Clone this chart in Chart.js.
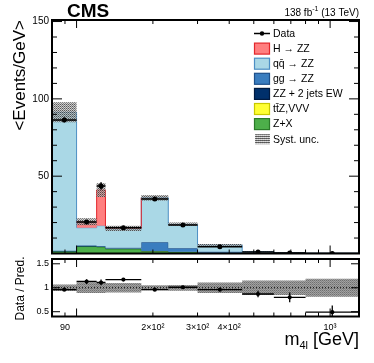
<!DOCTYPE html>
<html><head><meta charset="utf-8">
<script src="https://cdn.jsdelivr.net/npm/chart.js@4.4.1/dist/chart.umd.min.js"></script>
<style>
html,body{margin:0;padding:0;background:#fff;}
#wrap{position:relative;width:374px;height:363px;overflow:hidden;background:#fff;}
#c1{position:absolute;left:0;top:0;}
#c2{position:absolute;left:0;top:250px;}
</style></head><body>
<div id="wrap">
<canvas id="c1" width="374" height="263"></canvas>
<canvas id="c2" width="374" height="113"></canvas>
</div>
<script>
// ---------------- data ----------------
const binEdges = [80, 100, 120, 130, 180, 230, 300, 450, 600, 800, 1300];
const zxVals   = [1.3, 4.5, 4.2, 2.9, 1.3, 0.9, 0.3, 0.1, 0.04, 0.01];
const ttzVals  = [0.05, 0.1, 0.1, 0.15, 0.15, 0.1, 0.05, 0.02, 0.01, 0.005];
const ewVals   = [0.1, 0.2, 0.2, 0.2, 0.15, 0.15, 0.1, 0.04, 0.02, 0.01];
const ggVals   = [0.4, 0.3, 0.3, 0.4, 5.6, 2.2, 0.7, 0.18, 0.07, 0.02];
const qqVals   = [89.5, 11.6, 13.2, 12.4, 28.9, 15.5, 4.35, 0.9, 0.31, 0.075];
const hVals    = [0, 3.9, 23.1, 0.2, 0, 0, 0, 0, 0, 0];
const dataVals = [86.4, 20.4, 43.7, 16.7, 35.3, 18.4, 4.4, 1.05, 0.36, 0.06];
const dataErr  = [1.5, 1.0, 2.3, 0.5, 0.9, 0.5, 0.15, 0.07, 0.04, 0.01];
const systRel  = [0.07, 0.11, 0.11, 0.10, 0.05, 0.06, 0.11, 0.15, 0.15, 0.19];
const ratioVals = [0.96, 1.13, 1.11, 1.17, 0.96, 1.01, 0.96, 0.87, 0.80, 0.49];
const ratioErr  = [0.02, 0.05, 0.06, 0.03, 0.025, 0.03, 0.035, 0.07, 0.10, 0.14];
const xTickValues = [90, 200, 300, 400, 1000];
const xTickLabels = ['90', '2×10²', '3×10²', '4×10²', '10³'];
const xTickMarks  = [90, 100, 200, 300, 400, 500, 600, 700, 800, 900, 1000];
const yTickValues = [50, 100, 150];
const ratioTickValues = [0.5, 1, 1.5];
const legendLabels = ['Data', 'H → ZZ', 'qq\u0304 → ZZ', 'gg → ZZ', 'ZZ + 2 jets EW', 'tt\u0304Z,VVV', 'Z+X', 'Syst. unc.'];

// ---------------- helpers ----------------
const FONT = "'Liberation Sans', Arial, Helvetica, sans-serif";
Chart.defaults.font.family = FONT;
Chart.defaults.color = '#000';
Chart.defaults.animation = false;

function steps(vals){ return binEdges.map((e,i)=>({x:e, y: vals[Math.min(i, vals.length-1)]})); }
function centers(vals){ return vals.map((v,i)=>({x: Math.sqrt(binEdges[i]*binEdges[i+1]), y: v})); }
function makePattern(cells, w, h){
  const c = document.createElement('canvas'); c.width = w; c.height = h;
  const g = c.getContext('2d');
  cells.forEach((col, k)=>{ if(!col) return; g.fillStyle = col; g.fillRect(k % w, Math.floor(k / w), 1, 1); });
  return g.createPattern(c, 'repeat');
}
const hatchMain = makePattern(['rgba(60,60,60,0.85)','rgba(170,170,170,0.7)','rgba(185,185,185,0.6)','rgba(100,100,100,0.8)'], 2, 2);
const hatchRatio = makePattern(['#707070','#9c9c9c','#a4a4a4','#858585'], 2, 2);
const hatchLegend = makePattern(['#555','#666','#ccc','#ddd'], 2, 2);

const procs = [
  {vals: zxVals,  fill:'#4daf4a', line:'#2b7a29', bw:1},
  {vals: ttzVals, fill:'#ffff33', line:'#c8c800', bw:0},
  {vals: ewVals,  fill:'#00306b', line:'#001a40', bw:0},
  {vals: ggVals,  fill:'#3a7dbf', line:'#1d4f8a', bw:1},
  {vals: qqVals,  fill:'#aad8e6', line:'#4d8fc4', bw:1},
  {vals: hVals,   fill:'#ff7f7f', line:'#e3262b', bw:1},
];
let cum = dataVals.map(()=>0);
const histSets = procs.map((p,i)=>{
  cum = cum.map((c,j)=>c + p.vals[j]);
  const vals = p.vals;
  return {
    type:'line', data: steps(cum), stepped: true, fill: i===0 ? 'origin' : '-1',
    backgroundColor: p.fill, borderColor: p.line, borderWidth: p.bw, pointRadius: 0, order: 20 - i,
    segment: { borderColor: ctx => (vals[ctx.p0DataIndex] > 0 ? p.line : 'rgba(0,0,0,0)') }
  };
});
const total = cum;
const bandLo = total.map((t,i)=>t*(1-systRel[i]));
const bandHi = total.map((t,i)=>t*(1+systRel[i]));

function drawFrame(ctx, a, xs, ys, yMaj, yMin, lens){
  ctx.save();
  ctx.strokeStyle = '#000';
  ctx.lineWidth = 1;
  ctx.beginPath();
  xTickMarks.forEach(v=>{
    const px = xs.getPixelForValue(v);
    const L = (v === 100 || v === 1000) ? lens.xL : lens.xS;
    ctx.moveTo(px, a.bottom); ctx.lineTo(px, a.bottom - L);
    ctx.moveTo(px, a.top); ctx.lineTo(px, a.top + L);
  });
  yMaj.forEach(v=>{
    const py = ys.getPixelForValue(v);
    ctx.moveTo(a.left, py); ctx.lineTo(a.left + lens.yL, py);
    ctx.moveTo(a.right, py); ctx.lineTo(a.right - lens.yL, py);
  });
  yMin.forEach(v=>{
    const py = ys.getPixelForValue(v);
    ctx.moveTo(a.left, py); ctx.lineTo(a.left + lens.yS, py);
    ctx.moveTo(a.right, py); ctx.lineTo(a.right - lens.yS, py);
  });
  ctx.stroke();
  ctx.lineWidth = 2;
  ctx.strokeRect(a.left, a.top, a.right - a.left, a.bottom - a.top);
  ctx.restore();
}
function drawErrors(ctx, a, xs, ys, vals, errs, lw){
  ctx.save();
  ctx.beginPath(); ctx.rect(a.left, a.top, a.right - a.left, a.bottom - a.top); ctx.clip();
  ctx.strokeStyle = '#000'; ctx.lineWidth = lw;
  ctx.beginPath();
  vals.forEach((v,i)=>{
    const x0 = xs.getPixelForValue(binEdges[i]), x1 = xs.getPixelForValue(binEdges[i+1]);
    const xc = xs.getPixelForValue(Math.sqrt(binEdges[i]*binEdges[i+1]));
    const yc = ys.getPixelForValue(v);
    ctx.moveTo(x0, yc); ctx.lineTo(x1, yc);
    ctx.moveTo(xc, ys.getPixelForValue(v - errs[i])); ctx.lineTo(xc, ys.getPixelForValue(v + errs[i]));
  });
  ctx.stroke();
  ctx.restore();
}

const xLog = {
  type:'logarithmic', min: 80, max: 1300,
  afterBuildTicks: s => { s.ticks = xTickValues.map(v=>({value:v})); },
};

// ---------------- main panel ----------------
const mainDecor = {
  id: 'mainDecor',
  afterDatasetsDraw(chart){
    const {ctx, chartArea: a, scales:{x, y}} = chart;
    drawErrors(ctx, a, x, y, dataVals, dataErr, 1.5);
    const minor = []; for (let v = 10; v <= 150; v += 10) if (v % 50) minor.push(v);
    drawFrame(ctx, a, x, y, [0, 50, 100, 150], minor, {xL: 8, xS: 4, yL: 10, yS: 5});
  },
  afterDraw(chart){
    const ctx = chart.ctx;
    ctx.save();
    ctx.fillStyle = '#000';
    ctx.textBaseline = 'alphabetic';
    ctx.font = 'bold 19px ' + FONT;
    ctx.textAlign = 'left';
    ctx.fillText('CMS', 67, 17);
    // lumi
    ctx.font = '10px ' + FONT;
    ctx.textAlign = 'right';
    const t3 = ' (13 TeV)';
    ctx.fillText(t3, 359, 16);
    let xr = 359 - ctx.measureText(t3).width;
    ctx.font = '7px ' + FONT;
    ctx.fillText('-1', xr, 11);
    xr -= ctx.measureText('-1').width;
    ctx.font = '10px ' + FONT;
    ctx.fillText('138 fb', xr, 16);
    // y title
    ctx.save();
    ctx.translate(25, 20);
    ctx.rotate(-Math.PI/2);
    ctx.font = '17px ' + FONT;
    ctx.textAlign = 'right';
    ctx.fillText('<Events/GeV>', 0, 0);
    ctx.restore();
    // legend
    const cols = [null, procs[5], procs[4], procs[3], procs[2], procs[1], procs[0], null];
    ctx.font = '10.5px ' + FONT;
    ctx.textAlign = 'left';
    ctx.textBaseline = 'middle';
    legendLabels.forEach((lab, k)=>{
      const yc = 33.5 + 15.1 * k;
      if (k === 0) {
        ctx.strokeStyle = '#000'; ctx.lineWidth = 1.5;
        ctx.beginPath(); ctx.moveTo(254, yc); ctx.lineTo(270, yc); ctx.stroke();
        ctx.beginPath(); ctx.arc(262, yc, 2.2, 0, Math.PI*2); ctx.fillStyle = '#000'; ctx.fill();
      } else if (k === legendLabels.length - 1) {
        ctx.fillStyle = hatchLegend; ctx.fillRect(255, yc - 5, 15, 10);
      } else {
        const p = cols[k];
        ctx.fillStyle = p.fill; ctx.fillRect(254.5, yc - 5.5, 15, 11);
        ctx.strokeStyle = p.line; ctx.lineWidth = 1.2; ctx.strokeRect(254.5, yc - 5.5, 15, 11);
      }
      ctx.fillStyle = '#000';
      ctx.fillText(lab, 273, yc + 0.5);
    });
    ctx.restore();
  }
};

new Chart(document.getElementById('c1'), {
  type: 'line',
  data: { datasets: [
    ...histSets,
    {type:'line', data: steps(bandLo), stepped:true, fill:false, borderWidth:0, pointRadius:0, order:4},
    {type:'line', data: steps(bandHi), stepped:true, fill:'-1', backgroundColor: hatchMain, borderWidth:0, pointRadius:0, order:3},
    {type:'line', data: centers(dataVals), showLine:false, pointRadius:2.5, pointBackgroundColor:'#000', pointBorderColor:'#000', pointBorderWidth:0, order:1},
  ]},
  options: {
    responsive: false, animation: false,
    layout: { padding: {left:0, right:15, top:20, bottom:9.5} },
    plugins: { legend:{display:false}, tooltip:{enabled:false} },
    scales: {
      x: Object.assign({}, xLog, {display:false}),
      y: {
        type:'linear', min:0, max:151,
        afterBuildTicks: s => { s.ticks = yTickValues.map(v=>({value:v})); },
        afterFit: s => { s.width = 52; },
        grid:{display:false, drawTicks:false}, border:{display:false},
        ticks:{font:{size:10, family:FONT}, color:'#000', padding:3, callback: v => String(v)}
      }
    }
  },
  plugins: [mainDecor]
});

// ---------------- ratio panel ----------------
const ratioDecor = {
  id: 'ratioDecor',
  afterDatasetsDraw(chart){
    const {ctx, chartArea: a, scales:{x, y}} = chart;
    drawErrors(ctx, a, x, y, ratioVals, ratioErr, 1.3);
    drawFrame(ctx, a, x, y, ratioTickValues, [], {xL: 8, xS: 4, yL: 8, yS: 4});
  },
  afterDraw(chart){
    const ctx = chart.ctx;
    ctx.save();
    ctx.fillStyle = '#000';
    ctx.save();
    ctx.translate(24, 38.5);
    ctx.rotate(-Math.PI/2);
    ctx.font = '12px ' + FONT;
    ctx.textAlign = 'center';
    ctx.textBaseline = 'alphabetic';
    ctx.fillText('Data / Pred.', 0, 0);
    ctx.restore();
    // x title: m_{4l} [GeV]
    ctx.textBaseline = 'alphabetic';
    ctx.textAlign = 'right';
    ctx.font = '18px ' + FONT;
    const tail = ' [GeV]';
    ctx.fillText(tail, 359, 95);
    let xr = 359 - ctx.measureText(tail).width;
    ctx.font = '11px ' + FONT;
    ctx.fillText('4l', xr, 99);
    xr -= ctx.measureText('4l').width;
    ctx.font = '18px ' + FONT;
    ctx.fillText('m', xr, 95);
    ctx.restore();
  }
};

new Chart(document.getElementById('c2'), {
  type: 'line',
  data: { datasets: [
    {type:'line', data: steps(systRel.map(r=>1-r)), stepped:true, fill:false, borderWidth:0, pointRadius:0, order:4},
    {type:'line', data: steps(systRel.map(r=>1+r)), stepped:true, fill:'-1', backgroundColor: hatchRatio, borderWidth:0, pointRadius:0, order:3},
    {type:'line', data: [{x:80, y:1}, {x:1300, y:1}], borderColor:'#000', borderWidth:1, borderDash:[1,2], pointRadius:0, fill:false, order:2},
    {type:'line', data: centers(ratioVals), showLine:false, pointRadius:2.1, pointBackgroundColor:'#000', pointBorderColor:'#000', pointBorderWidth:0, order:1},
  ]},
  options: {
    responsive: false, animation: false,
    layout: { padding: {left:0, right:15, top:9, bottom:0} },
    plugins: { legend:{display:false}, tooltip:{enabled:false} },
    scales: {
      x: Object.assign({}, xLog, {
        afterFit: s => { s.height = 46.5; },
        grid:{display:false, drawTicks:false}, border:{display:false},
        ticks:{font:{size:9, family:FONT}, color:'#000', padding:6, autoSkip:false, maxRotation:0,
          callback: v => { const k = xTickValues.indexOf(v); return k >= 0 ? xTickLabels[k] : ''; }}
      }),
      y: {
        type:'linear', min:0.4, max:1.6,
        afterBuildTicks: s => { s.ticks = ratioTickValues.map(v=>({value:v})); },
        afterFit: s => { s.width = 52; },
        grid:{display:false, drawTicks:false}, border:{display:false},
        ticks:{font:{size:9, family:FONT}, color:'#000', padding:3, callback: v => String(v)}
      }
    }
  },
  plugins: [ratioDecor]
});
</script>
</body></html>
